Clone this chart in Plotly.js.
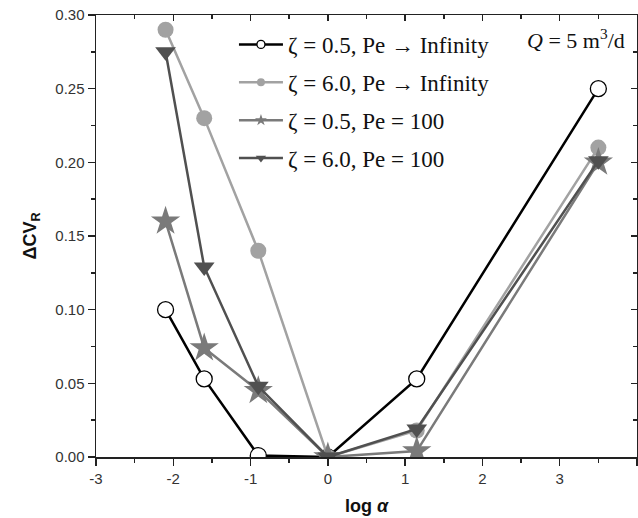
<!DOCTYPE html>
<html>
<head>
<meta charset="utf-8">
<script src="https://cdn.plot.ly/plotly-3.0.1.min.js"></script>
<style>
html,body{margin:0;padding:0;background:#fff;}
#chart{width:638px;height:518px;}
</style>
</head>
<body>
<div id="chart"></div>
<script>
// log alpha values
const logAlpha = [-2.1, -1.6, -0.9, 0, 1.15, 3.5];

// Delta CV_R series
const s1Name = "\u03B6 = 0.5, Pe \u2192 Infinity";
const s1 = [0.100, 0.053, 0.001, 0.000, 0.053, 0.250];

const s2Name = "\u03B6 = 6.0, Pe \u2192 Infinity";
const s2 = [0.290, 0.230, 0.140, 0.000, 0.018, 0.210];

const s3Name = "\u03B6 = 0.5, Pe = 100";
const s3 = [0.160, 0.074, 0.045, 0.000, 0.004, 0.200];

const s4Name = "\u03B6 = 6.0, Pe = 100";
const s4 = [0.275, 0.129, 0.048, 0.000, 0.019, 0.201];

const xTickVals = [-3, -2, -1, 0, 1, 2, 3, 4];
const xTickText = ["-3", "-2", "-1", "0", "1", "2", "3", "4"];
const yTickVals = [0, 0.05, 0.10, 0.15, 0.20, 0.25, 0.30];
const yTickText = ["0.00", "0.05", "0.10", "0.15", "0.20", "0.25", "0.30"];

const series = [
  {y: s1, name: s1Name, color: "#000000", symbol: "circle", size: 16, fill: "#ffffff", edge: 1.3, legSize: 8},
  {y: s2, name: s2Name, color: "#a2a2a2", symbol: "circle", size: 16, fill: "#a2a2a2", edge: 0, legSize: 8},
  {y: s3, name: s3Name, color: "#7a7a7a", symbol: "star", size: 22, fill: "#7a7a7a", edge: 0, legSize: 9},
  {y: s4, name: s4Name, color: "#505050", symbol: "triangle-down", size: 18, fill: "#505050", edge: 0, legSize: 9}
];

const traces = [];
series.forEach(function (s, i) {
  traces.push({
    x: logAlpha, y: s.y, name: s.name, showlegend: false, mode: "lines+markers",
    line: {color: s.color, width: 2.5},
    marker: {symbol: s.symbol, size: s.size, color: s.fill, line: {color: s.color, width: s.edge}}
  });
});
// legend entries (small markers, as in the reference legend)
series.forEach(function (s, i) {
  traces.push({
    x: [null], y: [null], name: s.name, legendgroup: "g" + i, showlegend: true, mode: "lines+markers",
    line: {color: s.color, width: 2.5},
    marker: {symbol: s.symbol, size: s.legSize, color: s.fill, line: {color: s.color, width: s.edge}}
  });
});
// helper trace so the mirrored (top/right) axes are drawn
traces.push({x: [0], y: [0], xaxis: "x2", yaxis: "y2", mode: "markers", showlegend: false,
  hoverinfo: "skip", marker: {opacity: 0}});

const tickFont = {family: "Liberation Sans, Arial, sans-serif", size: 15, color: "#333"};
const titleFont = {family: "Liberation Sans, Arial, sans-serif", size: 18, color: "#111"};

const layout = {
  width: 638, height: 518,
  margin: {l: 96, r: 1, t: 15, b: 61},
  paper_bgcolor: "#ffffff", plot_bgcolor: "#ffffff",
  showlegend: true,
  legend: {
    x: 0.255, y: 0.982, xanchor: "left", yanchor: "top",
    bgcolor: "rgba(0,0,0,0)", borderwidth: 0,
    font: {family: "Liberation Serif, Times New Roman, serif", size: 23, color: "#111"},
    tracegroupgap: 5, itemsizing: "trace", itemwidth: 44
  },
  xaxis: {
    range: [-3, 4], tickvals: xTickVals, ticktext: xTickText, ticks: "outside", ticklen: 7, tickwidth: 1.5,
    tickcolor: "#222", showline: true, linecolor: "#222", linewidth: 1.5, mirror: true,
    showgrid: false, zeroline: false, tickfont: tickFont,
    minor: {dtick: 0.5, ticks: "outside", ticklen: 4, tickwidth: 1.5, tickcolor: "#222", showgrid: false},
    title: {text: "<b>log <i>\u03B1</i></b>", font: titleFont, standoff: 14}
  },
  yaxis: {
    range: [0, 0.30], tickvals: yTickVals, ticktext: yTickText, ticks: "outside", ticklen: 7, tickwidth: 1.5,
    tickcolor: "#222", showline: true, linecolor: "#222", linewidth: 1.5, mirror: true,
    showgrid: false, zeroline: false, tickfont: tickFont,
    minor: {dtick: 0.025, ticks: "outside", ticklen: 4, tickwidth: 1.5, tickcolor: "#222", showgrid: false},
    title: {text: "<b>\u0394CV<sub>R</sub></b>", font: titleFont, standoff: 14}
  },
  xaxis2: {
    overlaying: "x", side: "top", anchor: "y2", range: [-3, 4], tickvals: xTickVals,
    ticks: "inside", ticklen: 6, tickwidth: 1.5, tickcolor: "#222", showticklabels: false,
    showgrid: false, zeroline: false, showline: false,
    minor: {dtick: 0.5, ticks: "inside", ticklen: 4, tickwidth: 1.5, tickcolor: "#222", showgrid: false}
  },
  yaxis2: {
    overlaying: "y", side: "right", anchor: "x2", range: [0, 0.30], tickvals: yTickVals,
    ticks: "inside", ticklen: 6, tickwidth: 1.5, tickcolor: "#222", showticklabels: false,
    showgrid: false, zeroline: false, showline: false,
    minor: {dtick: 0.025, ticks: "inside", ticklen: 4, tickwidth: 1.5, tickcolor: "#222", showgrid: false}
  },
  annotations: [{
    text: "<i>Q</i> = 5 m<sup>3</sup>/d", xref: "paper", yref: "paper",
    x: 0.982, y: 0.945, xanchor: "right", yanchor: "middle", showarrow: false,
    font: {family: "Liberation Serif, Times New Roman, serif", size: 22, color: "#111"}
  }]
};

Plotly.newPlot("chart", traces, layout, {displayModeBar: false, staticPlot: true});
</script>
</body>
</html>
